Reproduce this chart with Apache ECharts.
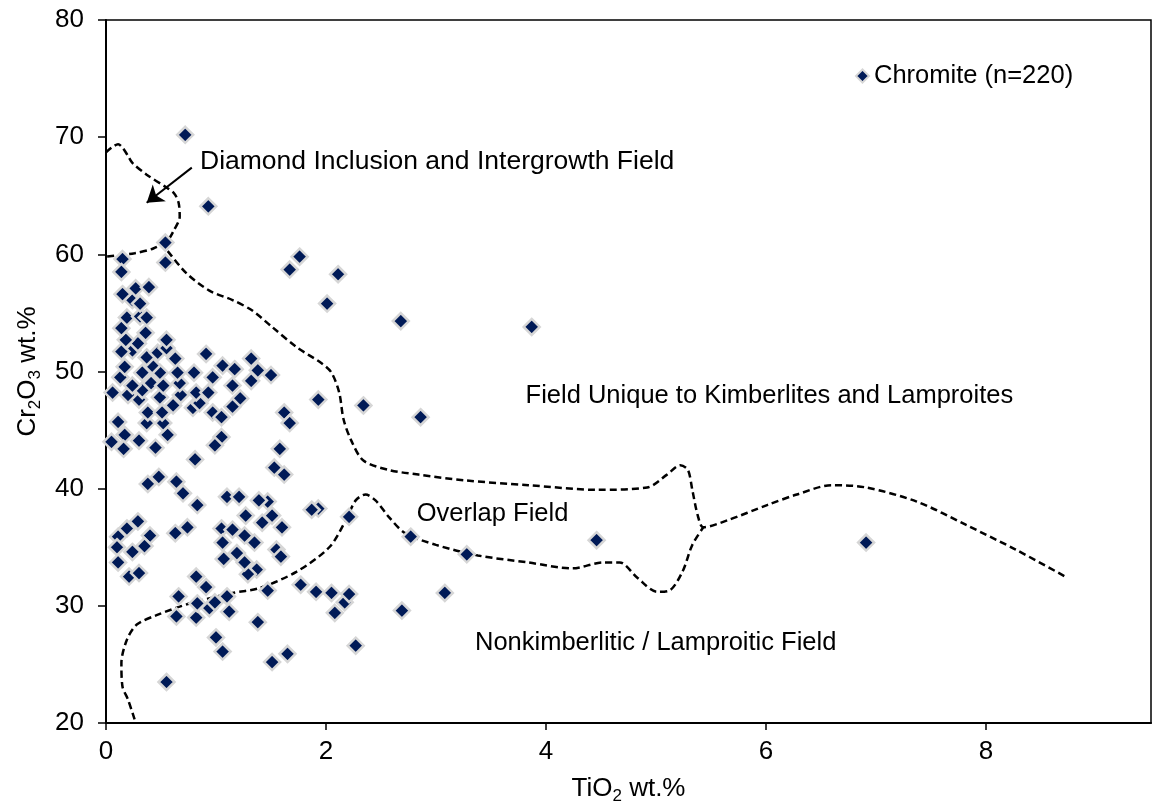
<!DOCTYPE html>
<html>
<head>
<meta charset="utf-8">
<title>Chromite TiO2 vs Cr2O3</title>
<script src="https://cdn.jsdelivr.net/npm/echarts@6/dist/echarts.min.js"></script>
<style>
  html, body { margin: 0; padding: 0; background: #ffffff; }
  #chart { width: 1159px; height: 804px; }
</style>
</head>
<body>
<div id="chart"></div>
<script>
// Chromite analyses: TiO2 wt.% and Cr2O3 wt.%
const tio2 = [
  0.72, 0.93, 0.54, 0.54, 1.76, 1.67, 2.11, 2.01, 2.68, 3.87,
  1.93, 2.34, 2.86, 1.62, 1.67, 1.58, 1.53, 1.62, 1.93, 1.87,
  2.21, 2.77, 3.28, 4.46, 6.91, 1.77, 1.91, 2.05, 2.17, 2.21,
  2.08, 2.69, 3.08, 2.27, 1.65, 1.51, 0.55, 1.38, 1.00, 1.06,
  0.64, 0.82, 0.94, 0.83, 1.12, 0.82, 0.91, 0.66, 0.99, 1.10,
  1.47, 1.37, 1.29, 1.19, 1.07, 1.26, 1.55, 1.59, 1.05, 1.15,
  1.06, 1.26, 1.35, 1.27, 1.42, 1.51, 1.60, 1.47, 1.39, 1.10,
  1.21, 0.63, 0.74, 0.83, 0.70, 0.64, 0.38, 0.48, 0.81, 0.29,
  0.19, 0.11, 0.40, 0.24, 0.35, 0.10, 0.11, 0.21, 0.30, 0.05,
  0.17, 0.16, 0.30, 0.45, 0.56, 0.37, 0.52, 1.05, 0.99, 0.11,
  0.97, 1.05, 0.79, 0.85, 0.61, 0.38, 0.51, 0.30, 0.49, 0.06,
  0.20, 0.33, 0.68, 0.82, 0.93, 0.24, 0.41, 0.52, 0.67, 0.80,
  0.13, 0.33, 0.49, 0.65, 0.17, 0.42, 0.63, 0.91, 0.37, 0.47,
  0.55, 0.55, 0.24, 0.14, 0.29, 0.18, 0.36, 0.14, 0.19, 0.31,
  0.37, 0.24, 0.31, 0.15, 0.27, 0.39, 0.15, 0.14, 1.06, 1.17,
  1.32, 1.38, 1.50, 1.32, 1.15, 1.22, 1.15, 0.97
];
const cr2o3 = [
  70.2, 64.1, 61.0, 59.3, 59.8, 58.7, 58.3, 55.8, 54.3, 53.8,
  47.6, 47.1, 46.1, 46.5, 45.6, 43.4, 41.8, 41.2, 38.3, 38.2,
  37.6, 35.9, 34.4, 35.6, 35.4, 31.8, 31.2, 31.1, 30.3, 31.0,
  29.4, 29.6, 31.1, 26.6, 25.9, 25.2, 23.5, 28.6, 27.3, 26.1,
  29.1, 29.0, 29.8, 30.2, 29.5, 32.5, 31.6, 30.8, 30.3, 30.8,
  31.3, 33.1, 32.7, 34.5, 34.0, 33.7, 34.8, 34.2, 36.6, 36.5,
  35.4, 36.0, 35.4, 37.7, 37.1, 37.7, 36.7, 38.9, 39.0, 39.3,
  39.3, 36.2, 36.7, 38.6, 39.6, 40.6, 40.4, 41.0, 42.5, 37.2,
  36.6, 35.9, 36.0, 34.6, 35.1, 35.0, 33.7, 32.5, 32.8, 44.0,
  44.6, 43.4, 44.1, 43.5, 44.6, 45.6, 45.6, 44.4, 43.7, 45.7,
  46.5, 46.1, 46.9, 47.3, 47.1, 46.5, 46.5, 47.6, 47.8, 48.2,
  48.0, 48.4, 48.0, 48.2, 48.2, 48.8, 49.0, 48.8, 49.0, 49.9,
  49.5, 49.9, 49.9, 49.9, 50.4, 50.5, 51.1, 51.5, 51.2, 51.6,
  52.0, 52.7, 51.8, 51.7, 52.4, 52.7, 53.3, 53.7, 54.6, 54.7,
  54.6, 56.1, 55.8, 56.6, 57.1, 57.2, 59.6, 58.5, 50.5, 50.2,
  51.1, 50.1, 49.7, 49.2, 48.8, 47.7, 47.0, 49.5
];

// Field boundaries (TiO2, Cr2O3)
const diamondField = [
  [0.00, 68.7], [0.05, 69.1], [0.11, 69.4], [0.15, 69.1], [0.20, 68.4],
  [0.24, 67.8], [0.37, 66.8], [0.55, 65.7], [0.62, 65.2], [0.66, 64.4],
  [0.67, 63.2], [0.62, 62.1], [0.56, 61.2], [0.43, 60.5], [0.26, 60.1],
  [0.00, 59.8]
];
const kimberliteBoundary = [
  [0.50, 61.0], [0.55, 60.4], [0.73, 58.4], [0.94, 56.9], [1.15, 56.1],
  [1.33, 55.2], [1.51, 53.8], [1.73, 52.1], [1.96, 50.7], [2.05, 49.9],
  [2.12, 48.2], [2.16, 45.9], [2.23, 44.1], [2.34, 42.4], [2.57, 41.6],
  [2.84, 41.2], [3.27, 40.7], [3.84, 40.3], [4.47, 39.9], [4.92, 40.1],
  [5.10, 41.2], [5.22, 42.0], [5.29, 41.6], [5.33, 39.9], [5.38, 37.7],
  [5.43, 36.7], [5.65, 37.3], [6.01, 38.6], [6.28, 39.5], [6.60, 40.3],
  [6.91, 40.1], [7.37, 38.9], [7.82, 36.9], [8.27, 34.8], [8.72, 32.5]
];
const overlapBoundary = [
  [0.26, 20.3], [0.20, 22.0], [0.15, 23.1], [0.14, 25.1], [0.19, 27.1],
  [0.28, 28.4], [0.46, 29.2], [0.76, 30.2], [1.15, 31.1], [1.39, 31.5],
  [1.73, 32.9], [2.03, 35.0], [2.18, 37.3], [2.27, 39.0], [2.36, 39.5],
  [2.45, 39.0], [2.57, 37.6], [2.72, 36.2], [3.00, 35.2], [3.38, 34.3],
  [3.84, 33.7], [4.24, 33.2], [4.52, 33.7], [4.67, 33.7], [4.83, 32.4],
  [5.01, 31.2], [5.12, 31.3], [5.24, 32.9], [5.33, 35.2], [5.43, 36.7]
];

// Arrow pointing into the diamond field
const arrowLine = [[0.78, 67.4], [0.37, 64.4]];

// Field names, anchored at their left edge
const fieldLabels = [
  { text: 'Diamond Inclusion and Intergrowth Field', x: 0.85, y: 67.9, size: 26.5 },
  { text: 'Field Unique to Kimberlites and Lamproites', x: 3.81, y: 47.9, size: 25.5 },
  { text: 'Overlap Field', x: 2.82, y: 37.8, size: 25.5 },
  { text: 'Nonkimberlitic / Lamproitic Field', x: 3.35, y: 26.8, size: 25.5 }
];

const xTicks = [0, 2, 4, 6, 8];
const seriesName = 'Chromite (n=220)';

const FONT = "'Liberation Sans', Arial, sans-serif";
const chart = echarts.init(document.getElementById('chart'), null, { renderer: 'canvas' });

const points = tio2.map((t, i) => [t, cr2o3[i]]);

const dashed = { color: '#000', width: 2.5, type: [7, 4] };
function boundary(data) {
  return {
    type: 'line', data: data, smooth: 0.3, symbol: 'none', silent: true,
    lineStyle: dashed, z: 1
  };
}

const richName = {
  n: { fontSize: 26, color: '#000', fontFamily: FONT, lineHeight: 32 },
  s: { fontSize: 17, color: '#000', fontFamily: FONT, lineHeight: 32, verticalAlign: 'bottom' }
};

chart.setOption({
  animation: false,
  backgroundColor: '#ffffff',
  grid: {
    left: 106, right: 8, top: 20, bottom: 81,
    containLabel: false, outerBoundsMode: 'none',
    show: true, borderColor: '#000', borderWidth: 1.5, backgroundColor: 'transparent'
  },
  legend: {
    data: [seriesName],
    left: 850, top: 58,
    itemWidth: 13, itemHeight: 13, itemGap: 5,
    textStyle: { fontSize: 25.5, color: '#000', fontFamily: FONT }
  },
  xAxis: {
    type: 'value', min: 0, max: 9.5, interval: 2,
    name: '{n|TiO}{s|2}{n| wt.%}',
    nameLocation: 'middle', nameGap: 50,
    nameTextStyle: { rich: richName },
    axisLine: { onZero: false, lineStyle: { color: '#000', width: 2 } },
    axisTick: { show: true, inside: false, length: 7, customValues: xTicks, lineStyle: { color: '#000', width: 1.5 } },
    axisLabel: { customValues: xTicks, fontSize: 26, color: '#000', fontFamily: FONT, margin: 16 },
    splitLine: { show: false }
  },
  yAxis: {
    type: 'value', min: 20, max: 80, interval: 10,
    name: '{n|Cr}{s|2}{n|O}{s|3}{n| wt.%}',
    nameLocation: 'middle', nameGap: 60, nameRotate: 90,
    nameTextStyle: { rich: richName },
    axisLine: { onZero: false, lineStyle: { color: '#000', width: 2 } },
    axisTick: { show: true, inside: false, length: 8, lineStyle: { color: '#000', width: 1.5 } },
    axisLabel: { fontSize: 26, color: '#000', fontFamily: FONT, margin: 22 },
    splitLine: { show: false }
  },
  series: [
    boundary(diamondField),
    boundary(kimberliteBoundary),
    boundary(overlapBoundary),
    {
      type: 'lines', coordinateSystem: 'cartesian2d', silent: true, z: 2,
      symbol: ['none', 'arrow'], symbolSize: [0, 16],
      lineStyle: { color: '#000', width: 2, opacity: 1 },
      data: [{ coords: arrowLine }]
    },
    {
      type: 'scatter', silent: true, z: 3,
      symbolSize: 1,
      itemStyle: { color: 'rgba(0,0,0,0)', opacity: 1 },
      label: {
        show: true, position: 'right', distance: 0,
        formatter: p => p.data.name,
        color: '#000', fontFamily: FONT
      },
      data: fieldLabels.map(f => ({
        name: f.text, value: [f.x, f.y],
        label: { fontSize: f.size }
      }))
    },
    {
      name: seriesName,
      type: 'scatter', z: 5,
      symbol: 'diamond', symbolSize: 16,
      itemStyle: { color: '#001a57', borderColor: '#d6d6d6', borderWidth: 2.5, opacity: 1 },
      data: points
    }
  ]
});
</script>
</body>
</html>
